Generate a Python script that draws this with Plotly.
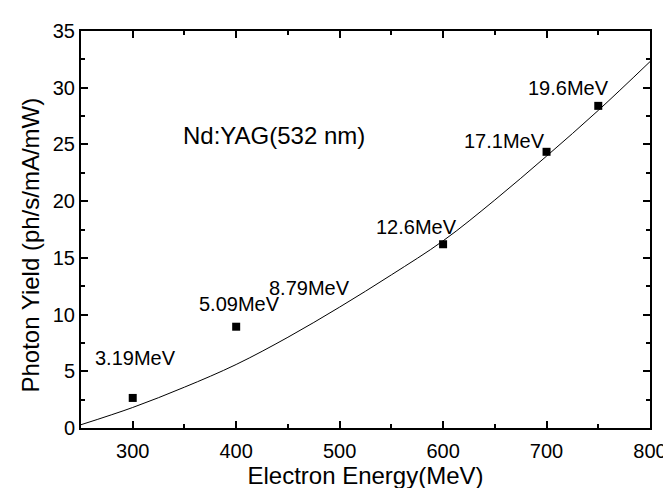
import plotly.graph_objects as go

# measured points
energy = [300, 400, 600, 700, 750]
yield_ = [2.65, 8.93, 16.2, 24.35, 28.4]

# fitted curve
curve_x = [250, 300, 350, 400, 450, 500, 550, 600, 650, 700, 750, 800]
curve_y = [0.29, 1.81, 3.6, 5.6, 8.0, 10.66, 13.5, 16.5, 20.1, 23.97, 28.0, 32.3]

# gamma energy labels
label_text = ["3.19MeV", "5.09MeV", "8.79MeV", "12.6MeV", "17.1MeV", "19.6MeV"]
label_x = [303, 403, 471, 574, 659, 721]
label_y = [6.2, 10.9, 12.3, 17.7, 25.3, 30.0]

FONT = "Liberation Sans, Arial, Helvetica, sans-serif"

fig = go.Figure()
fig.add_trace(go.Scatter(x=curve_x, y=curve_y, mode="lines",
                         line=dict(color="black", width=1, shape="spline"),
                         showlegend=False, hoverinfo="skip"))
fig.add_trace(go.Scatter(x=energy, y=yield_, mode="markers",
                         marker=dict(symbol="square", size=8, color="black"),
                         showlegend=False))

for t, x, y in zip(label_text, label_x, label_y):
    fig.add_annotation(x=x, y=y, text=t, showarrow=False,
                       font=dict(family=FONT, size=20, color="black"))

fig.add_annotation(x=437, y=25.75, text="Nd:YAG(532 nm)", showarrow=False,
                   font=dict(family=FONT, size=24, color="black"))

# y-axis title placed as rotated text
fig.add_annotation(xref="paper", yref="paper", x=-0.088, y=0.462,
                   xanchor="center", yanchor="middle",
                   text="Photon Yield (ph/s/mA/mW)", textangle=-90, showarrow=False,
                   font=dict(family=FONT, size=24, color="black"))

axis_common = dict(
    showgrid=False, zeroline=False, showline=True, linecolor="black", linewidth=2,
    mirror="ticks", ticks="inside", ticklen=7, tickwidth=1.5, tickcolor="black",
    tickfont=dict(family=FONT, size=20, color="black"),
)

fig.update_xaxes(range=[250, 800], dtick=100, tick0=300, ticklabelstandoff=4,
                 title=dict(text="Electron Energy(MeV)", font=dict(family=FONT, size=24, color="black"), standoff=4),
                 minor=dict(ticks="inside", ticklen=4, dtick=50, tick0=250, tickcolor="black", tickwidth=1.5),
                 **axis_common)
fig.update_yaxes(range=[0, 35], dtick=5,
                 minor=dict(ticks="inside", ticklen=4, dtick=2.5, tickcolor="black", tickwidth=1.5),
                 **axis_common)

fig.update_layout(width=671, height=488, plot_bgcolor="white", paper_bgcolor="white",
                  margin=dict(l=73, r=18, t=15, b=68))

fig.write_html("out.html")
